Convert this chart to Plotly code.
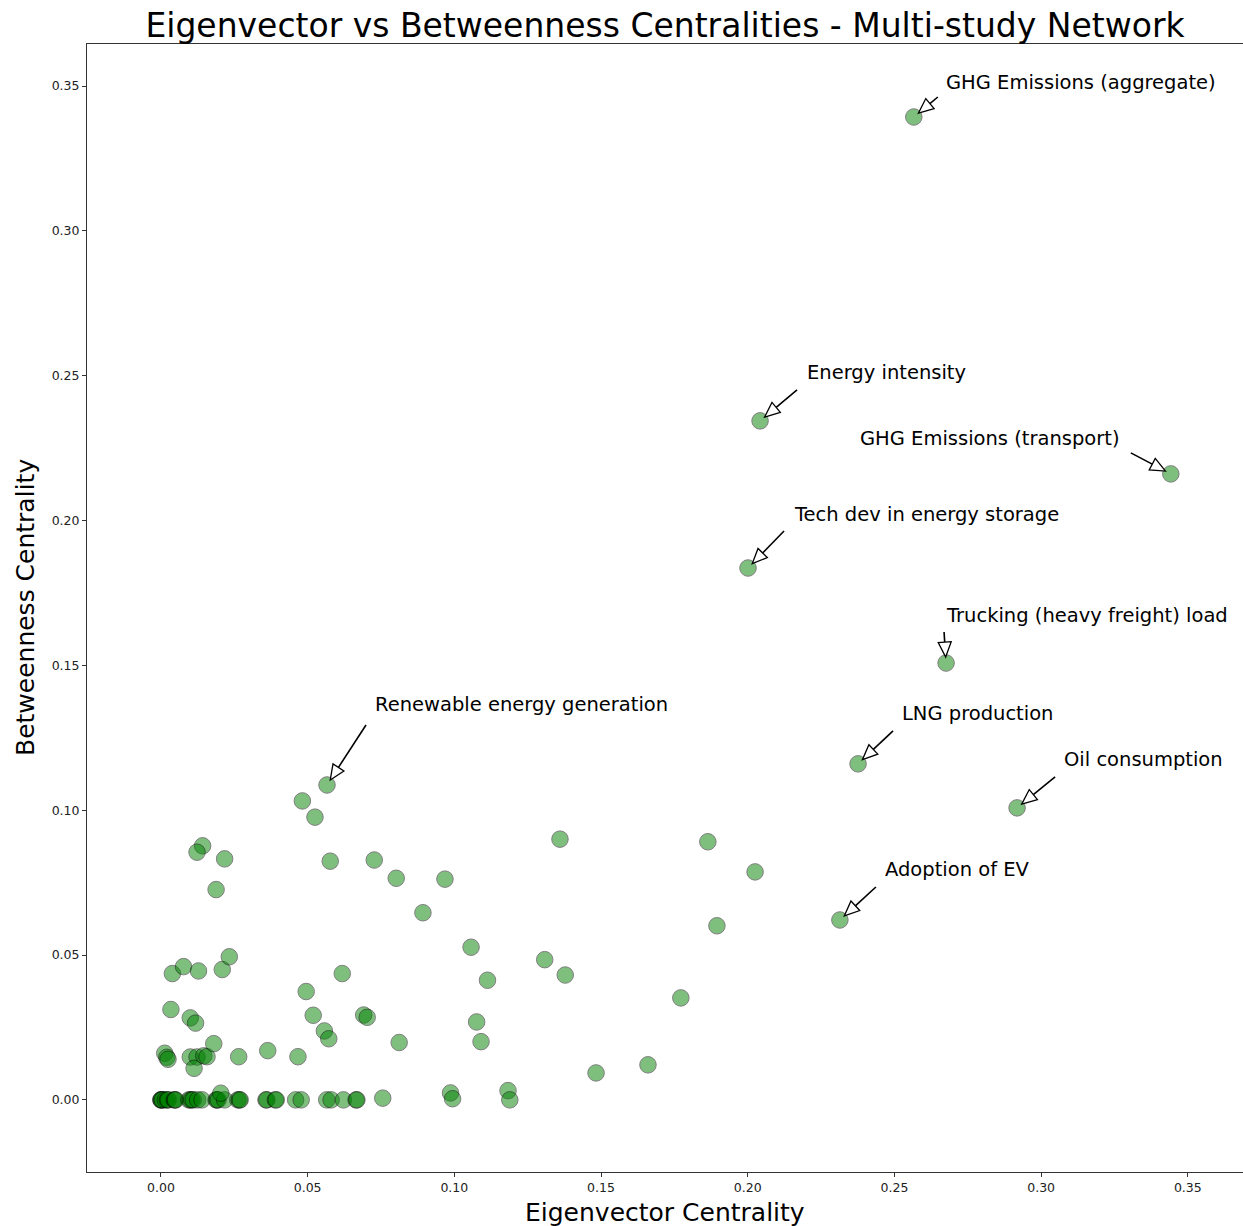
import math
import plotly.graph_objects as go

# ---------------- data ----------------
labels = ["GHG Emissions (aggregate)", "Energy intensity", "GHG Emissions (transport)",
          "Tech dev in energy storage", "Trucking (heavy freight) load", "LNG production",
          "Oil consumption", "Adoption of EV", "Renewable energy generation"]
label_eig = [0.2566, 0.2042, 0.3442, 0.2001, 0.2676, 0.2376, 0.2918, 0.2314, 0.0566]
label_btw = [0.3393, 0.2344, 0.2161, 0.1836, 0.1508, 0.1160, 0.1008, 0.0621, 0.1087]

# remaining nodes
other_eig = [
    # zero-betweenness row
    0.0000, 0.0000, 0.0002, 0.0005, 0.0015, 0.0022, 0.0025, 0.0045, 0.0048, 0.0050,
    0.0095, 0.0100, 0.0105, 0.0110, 0.0125, 0.0140, 0.0188, 0.0191, 0.0195, 0.0217,
    0.0262, 0.0267, 0.0270, 0.0358, 0.0361, 0.0390, 0.0393, 0.0459, 0.0478, 0.0565,
    0.0580, 0.0622, 0.0665, 0.0668,
    # near-zero
    0.0204, 0.0756, 0.0987, 0.0994, 0.1183, 0.1189,
    # others
    0.0013, 0.0020, 0.0024, 0.0100, 0.0123, 0.0146, 0.0157, 0.0113, 0.0180, 0.0265,
    0.0364, 0.0467, 0.0034, 0.0100, 0.0118, 0.0039, 0.0077, 0.0128, 0.0209, 0.0233,
    0.0142, 0.0123, 0.0217, 0.0188, 0.0618, 0.0495, 0.0519, 0.0557, 0.0572, 0.0691,
    0.0703, 0.0812, 0.1076, 0.1091, 0.1483, 0.1660, 0.1772, 0.1864, 0.2025, 0.1895,
    0.0482, 0.0525, 0.1360, 0.0577, 0.0727, 0.0802, 0.0968, 0.0893, 0.1057, 0.1308,
    0.1378, 0.1113,
]
other_btw = [
    0.0, 0.0, 0.0, 0.0, 0.0, 0.0, 0.0, 0.0, 0.0, 0.0,
    0.0, 0.0, 0.0, 0.0, 0.0, 0.0, 0.0, 0.0, 0.0, 0.0,
    0.0, 0.0, 0.0, 0.0, 0.0, 0.0, 0.0, 0.0, 0.0, 0.0,
    0.0, 0.0, 0.0, 0.0,
    0.0023, 0.0006, 0.0024, 0.0004, 0.0032, 0.0000,
    0.0161, 0.0147, 0.0140, 0.0148, 0.0148, 0.0152, 0.0149, 0.0109, 0.0194, 0.0149,
    0.0170, 0.0149, 0.0312, 0.0283, 0.0265, 0.0436, 0.0460, 0.0445, 0.0450, 0.0494,
    0.0877, 0.0855, 0.0832, 0.0726, 0.0436, 0.0374, 0.0292, 0.0238, 0.0211, 0.0293,
    0.0285, 0.0198, 0.0269, 0.0201, 0.0093, 0.0121, 0.0352, 0.0891, 0.0787, 0.0601,
    0.1032, 0.0976, 0.0900, 0.0824, 0.0828, 0.0765, 0.0762, 0.0646, 0.0527, 0.0484,
    0.0431, 0.0413,
]

eig = label_eig + other_eig
btw = label_btw + other_btw

# ---------------- layout constants ----------------
W, H = 1243, 1226
ML, MR, MT, MB = 87, 0, 44, 54
XR = [-0.0252, 0.3688]
YR = [-0.0249, 0.3645]
sx = (W - ML - MR) / (XR[1] - XR[0])
sy = (H - MT - MB) / (YR[1] - YR[0])

# text / arrow offsets in screen pixels relative to the labelled point (dy down)
text_off = [(30, -35, "left"), (45, -48, "left"), (-49, -35, "right"), (44, -54, "left"),
            (-2, -48, "left"), (42, -50, "left"), (45, -48, "left"), (43, -50, "left"),
            (46, -80, "left")]
tail_off = [(24, -20), (37, -31), (-40, -21), (36, -37), (-2, -31), (35, -33),
            (38, -31), (36, -33), (39, -60)]

FONT = "DejaVu Sans"

fig = go.Figure()
fig.add_trace(go.Scatter(
    x=eig, y=btw, mode="markers",
    marker=dict(size=16.5, color="#008000", opacity=0.5,
                line=dict(color="black", width=1)),
    hoverinfo="skip", showlegend=False,
))


def to_data(x, y, dx, dy):
    return x + dx / sx, y - dy / sy


shapes = []
annotations = []
for i, name in enumerate(labels):
    x, y = label_eig[i], label_btw[i]
    tdx, tdy, anchor = text_off[i]
    annotations.append(dict(
        x=x, y=y, xref="x", yref="y", text=name, showarrow=False,
        xanchor=anchor, yanchor="middle", xshift=tdx, yshift=-tdy,
        font=dict(family=FONT, size=19.5, color="black"),
    ))
    ax, ay = tail_off[i]
    L = math.hypot(ax, ay)
    ux, uy = ax / L, ay / L
    tip = (ux * 6, uy * 6)
    head_len, half_w = 15, 6.5
    base = (tip[0] + ux * head_len, tip[1] + uy * head_len)
    px_, py_ = -uy, ux
    b1 = (base[0] + px_ * half_w, base[1] + py_ * half_w)
    b2 = (base[0] - px_ * half_w, base[1] - py_ * half_w)
    # shaft
    if L > 6 + head_len:
        sx0, sy0 = to_data(x, y, ax, ay)
        sx1, sy1 = to_data(x, y, *base)
        shapes.append(dict(type="line", xref="x", yref="y", x0=sx0, y0=sy0, x1=sx1, y1=sy1,
                           line=dict(color="black", width=1.6)))
    pts = [to_data(x, y, *p) for p in (tip, b1, b2)]
    path = "M {} {} L {} {} L {} {} Z".format(pts[0][0], pts[0][1], pts[1][0], pts[1][1],
                                              pts[2][0], pts[2][1])
    shapes.append(dict(type="path", xref="x", yref="y", path=path,
                       fillcolor="white", line=dict(color="black", width=1.3)))

# axis titles
annotations.append(dict(text="Eigenvector Centrality", xref="paper", yref="paper",
                        x=0.5, y=-(1212 - 1172) / (H - MT - MB), xanchor="center",
                        yanchor="middle", showarrow=False,
                        font=dict(family=FONT, size=25, color="black")))
annotations.append(dict(text="Betweenness Centrality", xref="paper", yref="paper",
                        x=(25 - ML) / (W - ML - MR), y=0.5, xanchor="center",
                        yanchor="middle", textangle=-90, showarrow=False,
                        font=dict(family=FONT, size=25, color="black")))

fig.update_layout(
    width=W, height=H,
    margin=dict(l=ML, r=MR, t=MT, b=MB, autoexpand=False),
    paper_bgcolor="white", plot_bgcolor="white",
    font=dict(family=FONT, color="black"),
    title=dict(text="Eigenvector vs Betweenness Centralities - Multi-study Network",
               x=(ML + (W - ML - MR) / 2) / W,
               xanchor="center", yref="container", y=(H - 25) / H, yanchor="middle",
               font=dict(family=FONT, size=33, color="black")),
    shapes=shapes, annotations=annotations,
)
fig.update_xaxes(range=XR, tick0=0, dtick=0.05, tickformat=".2f", ticks="outside",
                 ticklen=4, tickcolor="#333", showgrid=False, zeroline=False,
                 showline=True, linecolor="#333", linewidth=1, mirror=True,
                 tickfont=dict(family=FONT, size=12.5, color="#222"))
fig.update_yaxes(range=YR, tick0=0, dtick=0.05, tickformat=".2f", ticks="outside",
                 ticklen=4, tickcolor="#333", showgrid=False, zeroline=False,
                 showline=True, linecolor="#333", linewidth=1, mirror=False,
                 tickfont=dict(family=FONT, size=12.5, color="#222"))

fig.write_html("out.html",
               config={"displayModeBar": False, "staticPlot": True},
               post_script="document.body.style.margin='0px';"
                           "document.body.style.overflow='hidden';")
